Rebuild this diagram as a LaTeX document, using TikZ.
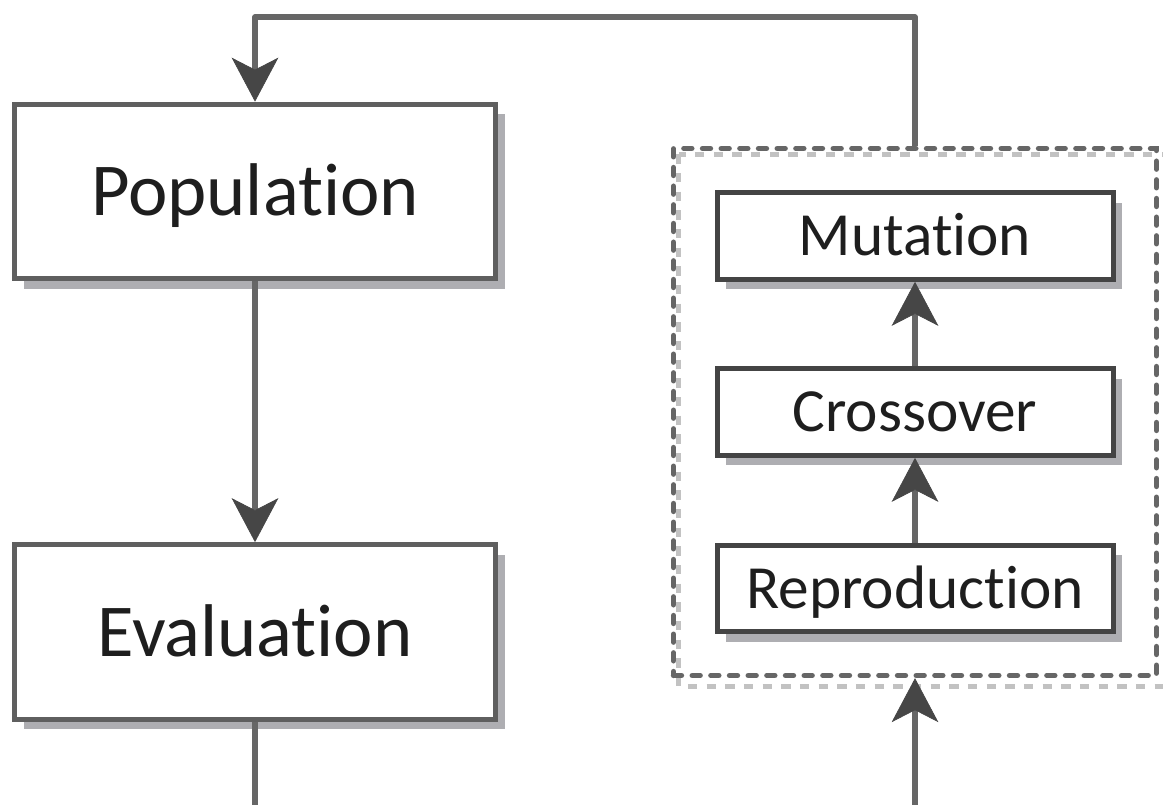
\documentclass[tikz,border=0pt]{standalone}
\usepackage{fontspec}
\setmainfont[Ligatures={NoCommon,NoRare},RawFeature={-liga;-dlig;-clig}]{Carlito}
\usetikzlibrary{arrows.meta,shadows,backgrounds,calc}
\definecolor{boxline}{HTML}{5F5F5F}
\definecolor{smline}{HTML}{444444}
\definecolor{connc}{HTML}{666666}
\definecolor{headc}{HTML}{464646}
\definecolor{shadec}{HTML}{AEAEB2}
\definecolor{dashshade}{HTML}{C2C2C2}
\definecolor{txtc}{HTML}{1E1E1E}
\begin{document}
\begin{tikzpicture}[x=0.75pt,y=-0.75pt,
  bigbox/.style={draw=boxline, line width=3.75pt, fill=white,
    minimum width=360.75pt, minimum height=131pt, inner sep=0pt,
    text=txtc, font=\fontsize{56}{60}\selectfont, text height=36pt, text depth=0pt,
    drop shadow={shadow xshift=7pt, shadow yshift=-7.5pt, fill=shadec, opacity=1}},
  smallbox/.style={draw=smline, line width=3.75pt, fill=white,
    minimum width=297pt, minimum height=65pt, inner sep=0pt,
    text=txtc, font=\fontsize{46}{50}\selectfont, text height=29.6pt, text depth=0pt,
    drop shadow={shadow xshift=6.5pt, shadow yshift=-7.5pt, fill=shadec, opacity=1}},
  groupbox/.style={draw=connc, line width=4pt, dash pattern=on 6pt off 8pt,
    line cap=round, minimum width=362.25pt, minimum height=395.25pt, inner sep=0pt},
  conn/.style={draw=connc, line width=4pt, line join=round},
  arr/.style={conn, -{Stealth[length=33pt, width=35pt, inset=9pt, line width=0.5pt, color=headc]}},
]
\useasboundingbox (0,0) rectangle (1163,805);
\begin{scope}[on background layer]
  \fill[white] (0,0) rectangle (1163,805);
\end{scope}

\node[bigbox] (pop) at (255,191.5) {Population};
\node[bigbox] (eval) at (255,632) {Evaluation};
\node[smallbox] (mut) at (915,236) {Mutation};
\node[smallbox] (cro) at (915,412) {Crossover};
\node[smallbox] (rep) at (915,588.5) {Reproduction};
\node[groupbox] (grp) at (915,412) {};

\begin{scope}[on background layer]
  \draw[dashshade, line width=3.75pt, dash pattern=on 7pt off 7pt]
    ($(grp.north west)+(8,8.5)$) rectangle ($(grp.south east)+(8,8.5)$);
\end{scope}

\coordinate (tr) at (915,17);
\coordinate (tl) at (255,17);
\coordinate (bl) at (255,805);
\coordinate (br) at (915,805);

\draw[arr] (grp.north) -- (tr) -- (tl) -- (pop.north);
\draw[arr] (pop.south) -- (eval.north);
\draw[arr] (rep.north) -- (cro.south);
\draw[arr] (cro.north) -- (mut.south);
\draw[conn] (eval.south) -- (bl);
\draw[arr] (br) -- (grp.south);
\end{tikzpicture}
\end{document}
